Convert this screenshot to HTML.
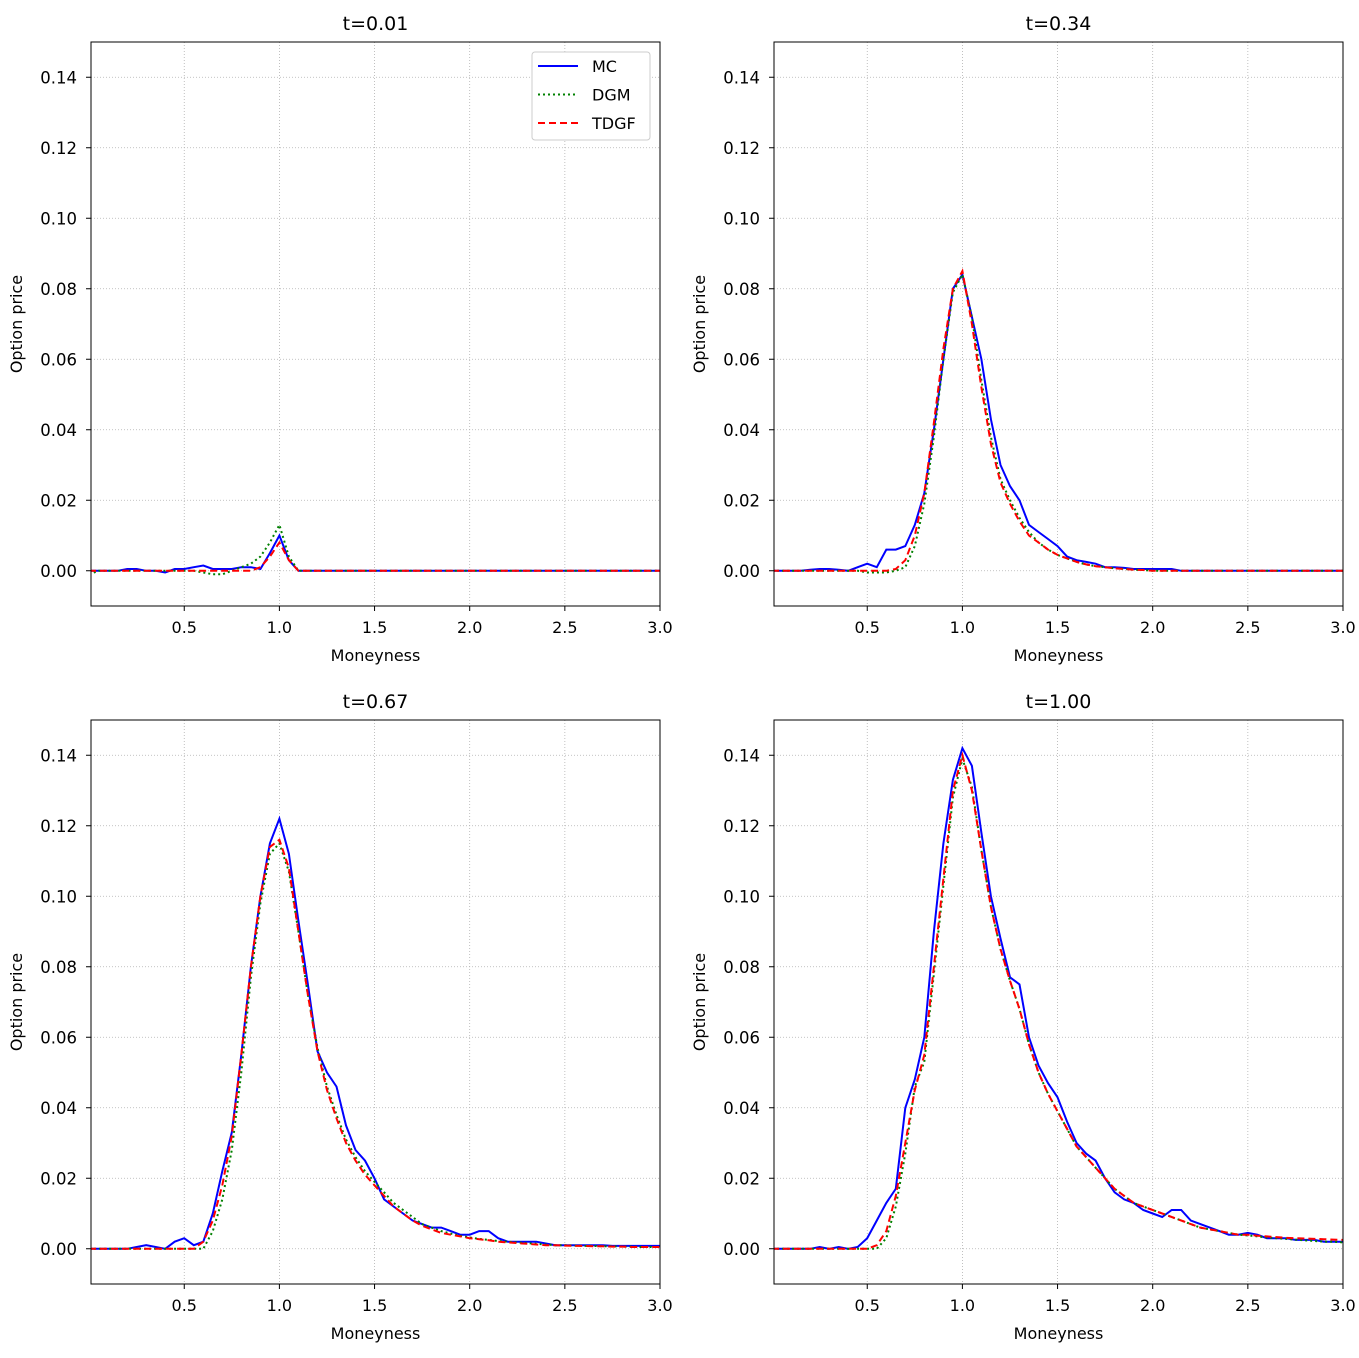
<!DOCTYPE html>
<html><head><meta charset="utf-8"><style>
body{margin:0;background:#fff;}
svg text{font-family:"DejaVu Sans","Liberation Sans",sans-serif;fill:#000;}
</style></head><body>
<svg id="fig" width="1359" height="1353" xmlns="http://www.w3.org/2000/svg"></svg>
<script>
const xs = [0,0.05,0.1,0.15,0.2,0.25,0.3,0.35,0.4,0.45,0.5,0.55,0.6,0.65,0.7,0.75,0.8,0.85,0.9,0.95,1.0,1.05,1.1,1.15,1.2,1.25,1.3,1.35,1.4,1.45,1.5,1.55,1.6,1.65,1.7,1.75,1.8,1.85,1.9,1.95,2.0,2.05,2.1,2.15,2.2,2.25,2.3,2.35,2.4,2.45,2.5,2.55,2.6,2.65,2.7,2.75,2.8,2.85,2.9,2.95,3.0];
const xTicks = [0.5,1.0,1.5,2.0,2.5,3.0];
const yTicks = [0,0.02,0.04,0.06,0.08,0.1,0.12,0.14];
const titles = ["t=0.01","t=0.34","t=0.67","t=1.00"];
const mc1 = [0,0,0,0,0.0005,0.0005,0,0,-0.0005,0.0005,0.0005,0.001,0.0015,0.0005,0.0005,0.0005,0.001,0.001,0.0005,0.005,0.01,0.003,0,0,0,0,0,0,0,0,0,0,0,0,0,0,0,0,0,0,0,0,0,0,0,0,0,0,0,0,0,0,0,0,0,0,0,0,0,0,0];
const dgm1 = [-0.001,0,0,0,0,0,0,0,0,0,0,0,-0.0005,-0.001,-0.001,0,0.001,0.002,0.004,0.008,0.013,0.004,0,0,0,0,0,0,0,0,0,0,0,0,0,0,0,0,0,0,0,0,0,0,0,0,0,0,0,0,0,0,0,0,0,0,0,0,0,0,0];
const tdgf1 = [0,0,0,0,0,0,0,0,0,0,0,0,0,0,0,0,0,0,0.001,0.004,0.008,0.003,0,0,0,0,0,0,0,0,0,0,0,0,0,0,0,0,0,0,0,0,0,0,0,0,0,0,0,0,0,0,0,0,0,0,0,0,0,0,0];
const mc2 = [0,0,0,0,0.0003,0.0005,0.0005,0.0003,0,0.001,0.002,0.001,0.006,0.006,0.007,0.013,0.022,0.04,0.06,0.08,0.084,0.072,0.06,0.043,0.03,0.024,0.02,0.013,0.011,0.009,0.007,0.004,0.003,0.0025,0.002,0.001,0.001,0.0008,0.0005,0.0005,0.0005,0.0005,0.0005,0,0,0,0,0,0,0,0,0,0,0,0,0,0,0,0,0,0];
const dgm2 = [0,0,0,0,0,0,0,0,0,0,-0.0005,-0.0005,-0.0005,0,0.001,0.007,0.019,0.038,0.06,0.079,0.084,0.072,0.054,0.038,0.026,0.02,0.015,0.011,0.008,0.006,0.0045,0.0035,0.0025,0.0018,0.0013,0.001,0.0007,0.0005,0.0003,0.0002,0,0,0,0,0,0,0,0,0,0,0,0,0,0,0,0,0,0,0,0,0];
const tdgf2 = [0,0,0,0,0,0,0,0,0,0,0,0,0,0.0005,0.003,0.01,0.022,0.042,0.063,0.08,0.085,0.07,0.052,0.036,0.025,0.019,0.014,0.01,0.008,0.006,0.0045,0.0035,0.0025,0.0018,0.0013,0.001,0.0007,0.0005,0.0003,0.0002,0,0,0,0,0,0,0,0,0,0,0,0,0,0,0,0,0,0,0,0,0];
const mc3 = [0,0,0,0,0,0.0005,0.001,0.0005,0,0.002,0.003,0.001,0.002,0.01,0.022,0.033,0.055,0.08,0.1,0.115,0.122,0.112,0.093,0.075,0.056,0.05,0.046,0.035,0.028,0.025,0.02,0.014,0.012,0.01,0.008,0.007,0.006,0.006,0.005,0.004,0.004,0.005,0.005,0.003,0.002,0.002,0.002,0.002,0.0015,0.001,0.001,0.001,0.001,0.001,0.001,0.0008,0.0008,0.0008,0.0008,0.0008,0.0008];
const dgm3 = [0,0,0,0,0,0,0,0,0,0,0,0,0,0.005,0.014,0.028,0.05,0.077,0.098,0.112,0.115,0.107,0.09,0.072,0.057,0.046,0.038,0.031,0.026,0.022,0.019,0.016,0.013,0.011,0.009,0.007,0.006,0.005,0.0043,0.0037,0.0032,0.0028,0.0025,0.0022,0.002,0.0018,0.0016,0.0014,0.0012,0.001,0.001,0.0009,0.0008,0.0008,0.0007,0.0007,0.0006,0.0006,0.0005,0.0005,0.0005];
const tdgf3 = [0,0,0,0,0,0,0,0,0,0,0,0,0.002,0.008,0.018,0.032,0.055,0.08,0.1,0.114,0.116,0.108,0.09,0.072,0.056,0.045,0.037,0.03,0.025,0.021,0.018,0.015,0.012,0.01,0.008,0.0065,0.0055,0.0045,0.004,0.0035,0.003,0.0027,0.0024,0.002,0.0018,0.0016,0.0014,0.0012,0.001,0.001,0.0009,0.0008,0.0008,0.0007,0.0007,0.0006,0.0006,0.0005,0.0005,0.0005,0.0005];
const mc4 = [0,0,0,0,0,0.0005,0,0.0005,0,0.0005,0.003,0.008,0.013,0.017,0.04,0.048,0.06,0.09,0.115,0.133,0.142,0.137,0.118,0.1,0.088,0.077,0.075,0.06,0.052,0.047,0.043,0.036,0.03,0.027,0.025,0.02,0.016,0.014,0.013,0.011,0.01,0.009,0.011,0.011,0.008,0.007,0.006,0.005,0.004,0.004,0.0045,0.004,0.003,0.003,0.003,0.0025,0.0025,0.0025,0.002,0.002,0.002];
const dgm4 = [0,0,0,0,0,0,0,0,0,0,0,0,0.003,0.012,0.027,0.046,0.053,0.078,0.103,0.128,0.139,0.131,0.113,0.097,0.085,0.076,0.068,0.058,0.05,0.044,0.039,0.034,0.029,0.026,0.023,0.02,0.017,0.015,0.013,0.012,0.011,0.01,0.009,0.008,0.007,0.006,0.0055,0.005,0.0045,0.004,0.0038,0.0035,0.0032,0.003,0.0028,0.0026,0.0024,0.0022,0.002,0.002,0.0018];
const tdgf4 = [0,0,0,0,0,0,0,0,0,0,0,0.001,0.005,0.015,0.03,0.045,0.055,0.08,0.105,0.13,0.14,0.13,0.113,0.097,0.085,0.076,0.068,0.058,0.05,0.044,0.039,0.034,0.029,0.026,0.023,0.02,0.017,0.015,0.013,0.012,0.011,0.01,0.009,0.008,0.007,0.006,0.0055,0.005,0.0045,0.004,0.004,0.0037,0.0035,0.0033,0.0031,0.003,0.0029,0.0028,0.0027,0.0026,0.0025];
const panels = [[mc1,dgm1,tdgf1],[mc2,dgm2,tdgf2],[mc3,dgm3,tdgf3],[mc4,dgm4,tdgf4]];
const NS="http://www.w3.org/2000/svg";
const svg=document.getElementById('fig');
function mk(tag,attrs,parent){const e=document.createElementNS(NS,tag);for(const k in attrs)e.setAttribute(k,attrs[k]);(parent||svg).appendChild(e);return e;}
const boxes=[[91,42],[774,42],[91,720],[774,720]];
const W=569,H=564,XMIN=0.01,XMAX=3.0,YMIN=-0.01,YMAX=0.15;
const styles=[{c:"#0000ff",d:"",n:"mc"},{c:"#008000",d:"2,3",n:"dgm"},{c:"#ff0000",d:"7,4",n:"tdgf"}];
panels.forEach((series,pi)=>{
  const [L,T]=boxes[pi];
  const g=mk('g',{});
  
  
  const sx=v=>L+(v-XMIN)/(XMAX-XMIN)*W;
  const sy=v=>T+(YMAX-v)/(YMAX-YMIN)*H;
  const clip=mk('clipPath',{id:'c'+pi},g);mk('rect',{x:L,y:T,width:W,height:H},clip);
  xTicks.forEach(t=>{const x=sx(t);
    const gl=mk('line',{x1:x,x2:x,y1:T,y2:T+H,stroke:"#b0b0b0","stroke-width":0.8,"stroke-dasharray":"1,2"},g);
    
    mk('line',{x1:x,x2:x,y1:T+H,y2:T+H+5,stroke:"#000"},g);
    const tx=mk('text',{x:x,y:T+H+27,"text-anchor":"middle","font-size":16},g);tx.textContent=t.toFixed(1);
    });
  yTicks.forEach(t=>{const y=sy(t);
    const gl=mk('line',{x1:L,x2:L+W,y1:y,y2:y,stroke:"#b0b0b0","stroke-width":0.8,"stroke-dasharray":"1,2"},g);
    
    mk('line',{x1:L-5,x2:L,y1:y,y2:y,stroke:"#000"},g);
    const tx=mk('text',{x:L-14,y:y+6,"text-anchor":"end","font-size":16.5},g);tx.textContent=t.toFixed(2);
    });
  series.forEach((arr,si)=>{const s=styles[si];
    const pts=arr.map((v,i)=>sx(xs[i]).toFixed(1)+","+sy(v).toFixed(1)).join(" ");
    const pl=mk('polyline',{points:pts,fill:"none",stroke:s.c,"stroke-width":2,"stroke-dasharray":s.d,"clip-path":"url(#c"+pi+")"},g);
    });
  mk('rect',{x:L,y:T,width:W,height:H,fill:"none",stroke:"#000","stroke-width":1},g);
  const ti=mk('text',{x:L+W/2,y:T-12,"text-anchor":"middle","font-size":19},g);ti.textContent=titles[pi];
  
  const xl=mk('text',{x:L+W/2,y:T+H+55,"text-anchor":"middle","font-size":16},g);xl.textContent="Moneyness";
  
  const yl=mk('text',{x:0,y:0,"text-anchor":"middle","font-size":16,transform:`translate(${L-69},${T+H/2}) rotate(-90)`},g);yl.textContent="Option price";
  
  if(pi===0){
    const lg=mk('g',{},g);
    
    mk('rect',{x:532,y:52,width:118,height:88,rx:3,fill:"#fff",stroke:"#ccc"},lg);
    ["MC","DGM","TDGF"].forEach((n,i)=>{const y=66+i*28.5;const s=styles[i];
      const ln=mk('line',{x1:538,x2:578,y1:y,y2:y,stroke:s.c,"stroke-width":2,"stroke-dasharray":s.d},lg);
      
      const t=mk('text',{x:592,y:y+6,"font-size":16},lg);t.textContent=n;
      });
  }
});
</script>
</body></html>
